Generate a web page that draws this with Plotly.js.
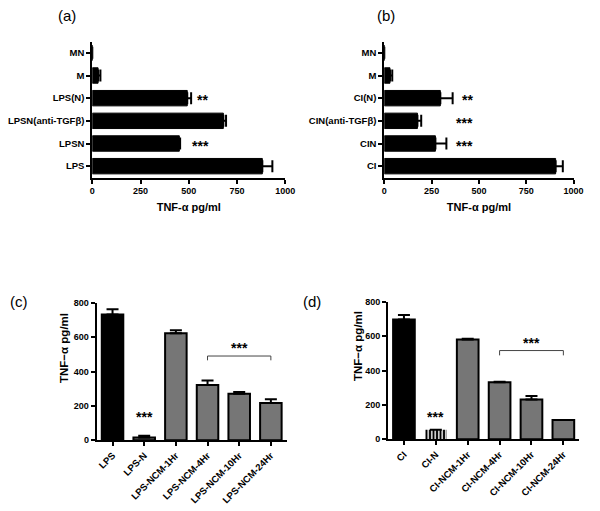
<!DOCTYPE html>
<html><head><meta charset="utf-8">
<script src="https://cdn.plot.ly/plotly-3.0.1.min.js"></script>
<style>html,body{margin:0;padding:0;background:#fff}#chart{width:600px;height:511px}</style>
</head><body><div id="chart"></div>
<script>
// Panel (a)
var catsA = ['MN','M','LPS(N)','LPSN(anti-TGFβ)','LPSN','LPS'];
var valsA = [0, 30, 492, 679, 451, 881];
var errA  = [null, 12, 20, 14, 4, 52];
var starsA = ['', '', '**', '', '***', ''];
var starXA = [0, 0, 573, 0, 561, 0];
// Panel (b)
var catsB = ['MN','M','CI(N)','CIN(anti-TGFβ)','CIN','CI'];
var valsB = [0, 30, 296, 175, 270, 905];
var errB  = [null, 12, 65, 20, 58, 38];
var starsB = ['', '', '**', '***', '***', ''];
var starXB = [0, 0, 438, 425, 425, 0];
// Panel (c)
var catsC = ['LPS','LPS-N','LPS-NCM-1Hr','LPS-NCM-4Hr','LPS-NCM-10Hr','LPS-NCM-24Hr'];
var valsC = [732, 17, 622, 321, 271, 217];
var errC  = [30, 10, 18, 27, 10, 21];
var starsC = {cat: 'LPS-N', y: 137};
var bracketC = {from: 'LPS-NCM-4Hr', to: 'LPS-NCM-24Hr', y: 490, drop: 465, starY: 535, starCat: 'LPS-NCM-10Hr'};
// Panel (d)
var catsD = ['CI','CI-N','CI-NCM-1Hr','CI-NCM-4Hr','CI-NCM-10Hr','CI-NCM-24Hr'];
var valsD = [697, 56, 580, 332, 231, 112];
var errD  = [26, null, 5, 3, 21, null];
var starsD = {cat: 'CI-N', y: 131};
var bracketD = {from: 'CI-NCM-4Hr', to: 'CI-NCM-24Hr', y: 516, drop: 488, starY: 559, starCat: 'CI-NCM-10Hr'};
var axisTitle = 'TNF-α pg/ml';
var axisTitleV = 'TNF−α pg/ml';

var FONT = 'Liberation Sans, Arial, sans-serif';
var GREY = '#767676';
var BW = 0.68;

function zeros(v){ return v.map(function(){return 0;}); }
function hbar(cats, vals, err, xa, ya) {
  return {type:'bar', orientation:'h', y:cats, x:vals, xaxis:xa, yaxis:ya, width:BW,
    marker:{color:'#000', line:{color:'#000', width:1}},
    error_x:{type:'data', array:err, arrayminus:zeros(vals), symmetric:false, color:'#000', thickness:2, width:6},
    hoverinfo:'skip', showlegend:false};
}
function vbar(cats, vals, err, xa, ya, colors, patterns, lines) {
  return {type:'bar', x:cats, y:vals, xaxis:xa, yaxis:ya, width:BW,
    marker:{color:colors, line:{color:lines, width:2}, pattern:patterns},
    error_y:{type:'data', array:err, arrayminus:zeros(vals), symmetric:false, color:'#000', thickness:2, width:6},
    hoverinfo:'skip', showlegend:false};
}
function bracket(b, xa, ya) {
  return {type:'scatter', mode:'lines', x:[b.from,b.from,b.to,b.to], y:[b.drop,b.y,b.y,b.drop],
    xaxis:xa, yaxis:ya, line:{color:'#444', width:1}, hoverinfo:'skip', showlegend:false};
}

var colorsC = catsC.map(function(c,i){return i===0?'#000':GREY;});
var colorsD = catsD.map(function(c,i){return i===1?'#000':(i===0?'#000':GREY);});
var linesD = catsD.map(function(c,i){return i===1?'rgba(0,0,0,0)':'#000';});
var patD = {shape: catsD.map(function(c,i){return i===1?'|':'';}), fgcolor:'#fff', fgopacity:1, size:3.5, solidity:0.4, fillmode:'overlay'};

var data = [
  hbar(catsA, valsA, errA, 'x', 'y'),
  hbar(catsB, valsB, errB, 'x2', 'y2'),
  vbar(catsC, valsC, errC, 'x3', 'y3', colorsC, undefined, '#000'),
  vbar(catsD, valsD, errD, 'x4', 'y4', colorsD, patD, linesD),
  bracket(bracketC, 'x3', 'y3'),
  bracket(bracketD, 'x4', 'y4')
];

var tickFont = {family:FONT, size:9.5, color:'#000', weight:700};
var numTickFont = {family:FONT, size:9, color:'#000', weight:700};
var titleFont = {family:FONT, size:11, color:'#000', weight:700};

function numAxis(domain, anchor, range, dtick, title, extra) {
  var a = {domain:domain, anchor:anchor, range:range, dtick:dtick, tick0:0, showgrid:false, zeroline:false,
    showline:true, linecolor:'#000', linewidth:2, ticks:'outside', ticklen:4, tickwidth:2, tickcolor:'#000',
    tickfont:numTickFont, fixedrange:true};
  if (title) a.title = {text:title, font:titleFont, standoff:8};
  for (var k in extra) a[k] = extra[k];
  return a;
}
function catAxis(domain, anchor, n, extra) {
  var a = {domain:domain, anchor:anchor, type:'category', range:[-0.5, n-0.5], showgrid:false, zeroline:false,
    showline:true, linecolor:'#000', linewidth:2, ticks:'outside', ticklen:4, tickwidth:2, tickcolor:'#000',
    tickfont:tickFont, fixedrange:true};
  for (var k in extra) a[k] = extra[k];
  return a;
}

var yTop = [1-177.5/511, 1-41.5/511];

var layout = {
  width:600, height:511, margin:{l:0,r:0,t:0,b:0}, paper_bgcolor:'#fff', plot_bgcolor:'rgba(0,0,0,0)',
  font:{family:FONT, color:'#000'},
  xaxis: numAxis([92.3/600, 285.3/600], 'y', [0,1000], 250, axisTitle),
  yaxis: catAxis(yTop, 'x', 6, {categoryorder:'array', categoryarray:catsA.slice().reverse()}),
  xaxis2: numAxis([384.3/600, 573.6/600], 'y2', [0,1000], 250, axisTitle),
  yaxis2: catAxis(yTop, 'x2', 6, {categoryorder:'array', categoryarray:catsB.slice().reverse()}),
  xaxis3: catAxis([96.7/600, 286.7/600], 'y3', 6, {tickangle:-45, categoryorder:'array', categoryarray:catsC}),
  yaxis3: numAxis([1-440.3/511, 1-302.7/511], 'x3', [0,800], 200, null),
  xaxis4: catAxis([388/600, 579.3/600], 'y4', 6, {tickangle:-45, categoryorder:'array', categoryarray:catsD}),
  yaxis4: numAxis([1-439.3/511, 1-301.7/511], 'x4', [0,800], 200, null),
  annotations: [],
  showlegend:false
};

var starFont = {family:FONT, size:14, color:'#000', weight:700};
catsA.forEach(function(c,i){ if (starsA[i]) layout.annotations.push({xref:'x', yref:'y', x:starXA[i], y:c, text:starsA[i], showarrow:false, font:starFont, yshift:-2}); });
catsB.forEach(function(c,i){ if (starsB[i]) layout.annotations.push({xref:'x2', yref:'y2', x:starXB[i], y:c, text:starsB[i], showarrow:false, font:starFont, yshift:-2}); });
layout.annotations.push({xref:'x3', yref:'y3', x:starsC.cat, y:starsC.y, text:'***', showarrow:false, font:starFont});
layout.annotations.push({xref:'x3', yref:'y3', x:bracketC.starCat, y:bracketC.starY, text:'***', showarrow:false, font:starFont});
layout.annotations.push({xref:'x4', yref:'y4', x:starsD.cat, y:starsD.y, text:'***', showarrow:false, font:starFont});
layout.annotations.push({xref:'x4', yref:'y4', x:bracketD.starCat, y:bracketD.starY, text:'***', showarrow:false, font:starFont});

// vertical axis titles for (c) and (d)
var vTitleFont = {family:FONT, size:11.5, color:'#000', weight:700};
[[64,348],[358,346]].forEach(function(p){
  layout.annotations.push({xref:'paper', yref:'paper', x:p[0]/600, y:1-p[1]/511, text:axisTitleV, textangle:-90, showarrow:false, font:vTitleFont, xanchor:'center', yanchor:'middle'});
});

var panelFont = {family:FONT, size:15, color:'#000'};
[['(a)',67,15],['(b)',386,15],['(c)',19,301],['(d)',312,301]].forEach(function(p){
  layout.annotations.push({xref:'paper', yref:'paper', x:p[1]/600, y:1-p[2]/511, text:p[0], showarrow:false, font:panelFont, xanchor:'center', yanchor:'middle'});
});

Plotly.newPlot('chart', data, layout, {staticPlot:true, displayModeBar:false});
</script></body></html>
